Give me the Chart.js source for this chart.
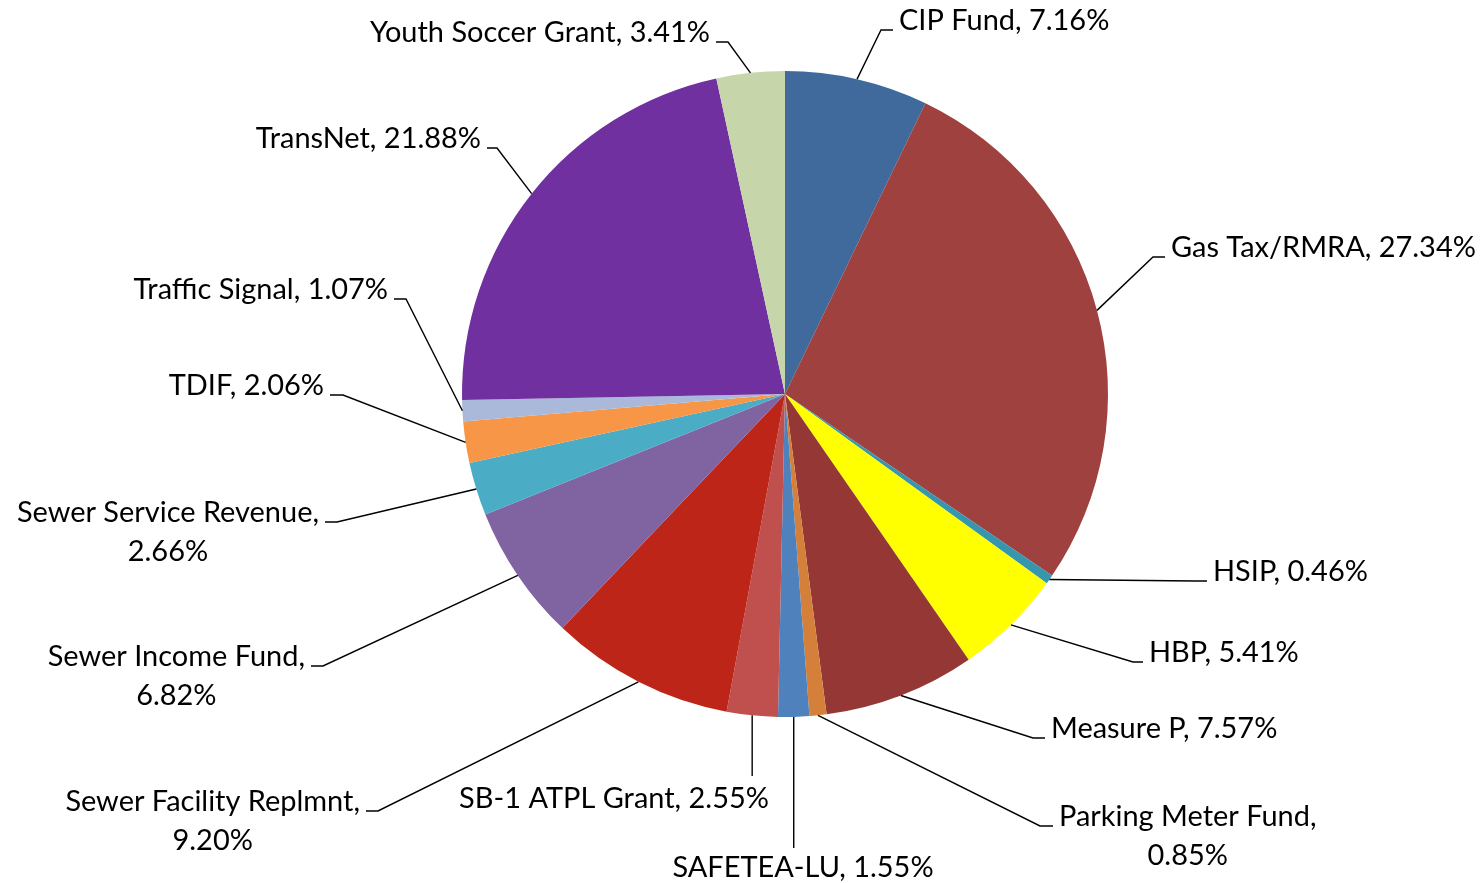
<!DOCTYPE html>
<html>
<head>
<meta charset="utf-8">
<script src="https://cdn.jsdelivr.net/npm/chart.js@4.4.1/dist/chart.umd.min.js"></script>
<style>
html,body{margin:0;padding:0;background:#fff;}
#wrap{width:1480px;height:883px;position:relative;}
</style>
</head>
<body>
<div id="wrap"><canvas id="c" width="1480" height="883"></canvas></div>
<script>
// ---- data ----
const categories = ["CIP Fund","Gas Tax/RMRA","HSIP","HBP","Measure P","Parking Meter Fund","SAFETEA-LU","SB-1 ATPL Grant","Sewer Facility Replmnt","Sewer Income Fund","Sewer Service Revenue","TDIF","Traffic Signal","TransNet","Youth Soccer Grant"];
const shares = [7.16,27.34,0.46,5.41,7.57,0.85,1.55,2.55,9.20,6.82,2.66,2.06,1.07,21.88,3.41];
const sliceColors = ["#3F6A9B","#9E413F","#3596AD","#FFFF00","#953735","#D4803A","#4F81BD","#C0504D","#BE2519","#8064A2","#4BACC6","#F79646","#AAB9D9","#7030A0","#C6D6AA"];

// ---- label layout (label positions only) ----
const labelLayout = [
  {side:'r', elbow:[881,30],   end:[893,30]},
  {side:'r', elbow:[1153,257], end:[1165,257]},
  {side:'r', elbow:[1195,581], end:[1207,581]},
  {side:'r', elbow:[1133,662], end:[1143,662]},
  {side:'r', elbow:[1033,738], end:[1045,738]},
  {side:'r', elbow:[1040,826], end:[1053,826], twoLine:true},
  {side:'b', endY:848, textX:803, baseY:877},
  {side:'b', endY:776, textX:614, baseY:808},
  {side:'l', elbow:[378,811],  end:[366,811], twoLine:true},
  {side:'l', elbow:[323,666],  end:[311,666], twoLine:true},
  {side:'l', elbow:[337,522],  end:[325,522], twoLine:true},
  {side:'l', elbow:[343,395],  end:[330,395]},
  {side:'l', elbow:[406,299],  end:[394,299]},
  {side:'l', elbow:[497,148],  end:[487,148]},
  {side:'l', elbow:[728,42],   end:[716,42]}
];

const FONT_FAMILY = "Lato, 'Open Sans', sans-serif";

const leaderPlugin = {
  id:'leaders',
  afterDatasetsDraw(chart){
    const ctx = chart.ctx;
    const meta = chart.getDatasetMeta(0);
    ctx.save();
    ctx.font = "26px " + FONT_FAMILY;
    const w = ctx.measureText(categories[1] + ", " + shares[1].toFixed(2) + "%").width;
    const fs = 26 * 305 / w;
    ctx.font = fs.toFixed(2) + "px " + FONT_FAMILY;
    ctx.fillStyle = "#000";
    ctx.strokeStyle = "#000";
    ctx.lineWidth = 1.4;
    const lineGap = 39, gap = 6;
    meta.data.forEach((arc, i) => {
      const L = labelLayout[i];
      const mid = (arc.startAngle + arc.endAngle) / 2;
      const sx = arc.x + Math.cos(mid) * arc.outerRadius;
      const sy = arc.y + Math.sin(mid) * arc.outerRadius;
      const name = categories[i] + ",";
      const val = shares[i].toFixed(2) + "%";
      ctx.beginPath();
      ctx.textBaseline = "alphabetic";
      if (L.side === 'b') {
        ctx.moveTo(sx, sy);
        ctx.lineTo(sx, L.endY);
        ctx.stroke();
        ctx.textAlign = "center";
        ctx.fillText(name + " " + val, L.textX, L.baseY);
        return;
      }
      ctx.moveTo(sx, sy);
      ctx.lineTo(L.elbow[0], L.elbow[1]);
      ctx.lineTo(L.end[0], L.end[1]);
      ctx.stroke();
      const first = L.twoLine ? name : name + " " + val;
      const fw = ctx.measureText(first).width;
      let x0;
      if (L.side === 'r') { x0 = L.end[0] + gap; }
      else { x0 = L.end[0] - gap - fw; }
      ctx.textAlign = "left";
      ctx.fillText(first, x0, L.end[1]);
      if (L.twoLine) {
        ctx.textAlign = "center";
        ctx.fillText(val, x0 + fw / 2, L.end[1] + lineGap);
      }
    });
    ctx.restore();
  }
};

new Chart(document.getElementById('c'), {
  type:'pie',
  data:{
    labels: categories,
    datasets:[{data: shares, backgroundColor: sliceColors, borderWidth:0}]
  },
  options:{
    responsive:false,
    animation:false,
    layout:{padding:{left:462,right:372,top:71,bottom:166}},
    plugins:{legend:{display:false}, tooltip:{enabled:false}}
  },
  plugins:[leaderPlugin]
});
</script>
</body>
</html>
